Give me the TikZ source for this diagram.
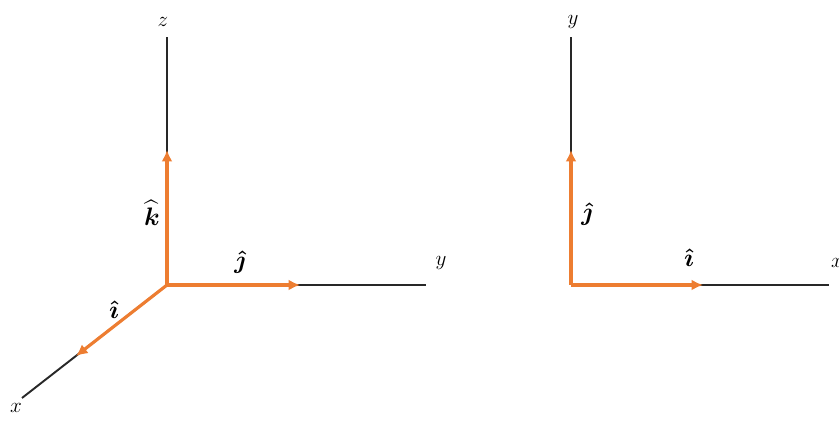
\documentclass[tikz,border=0pt]{standalone}
\usepackage{amsmath,amssymb}
\usepackage{tikz}
\usetikzlibrary{arrows.meta}
\usepackage{xcolor}
\definecolor{vecorange}{RGB}{237,125,49}
\definecolor{axisgray}{RGB}{40,40,40}

\begin{document}
\begin{tikzpicture}[x=0.02cm,y=-0.02cm,
    axis/.style={draw=axisgray,line width=1.1pt},
    unitvec/.style={draw=vecorange,line width=1.8pt,-{Latex[length=2.3mm,width=2.2mm]}},
    lbl/.style={draw=none,fill=none,inner sep=0pt,font=\large},
    veclbl/.style={lbl,font=\Large}]
  \useasboundingbox (0,0) rectangle (839,421);

  % left: three axes
  \coordinate (o) at (167,285);
  \coordinate (zend) at (167,37);
  \coordinate (yend) at (426,285);
  \coordinate (xend) at (22,398);
  \draw[axis] (o) -- (zend);
  \draw[axis] (o) -- (yend);
  \draw[axis] (o) -- (xend);
  \coordinate (ktip) at (167,150);
  \coordinate (jtip) at (300,285);
  \coordinate (itip) at (76,356);
  \draw[unitvec] (o) -- (ktip);
  \draw[unitvec] (o) -- (jtip);
  \draw[unitvec] (o) -- (itip);
  \node[lbl] (zlab) at (163,22) {$z$};
  \node[lbl] (ylab) at (441,263) {$y$};
  \node[lbl] (xlab) at (16,408) {$x$};
  \node[veclbl] (klab) at (152,213) {$\widehat{\boldsymbol{k}}$};
  \node[veclbl] (jlab) at (240,262) {$\boldsymbol{\hat{\jmath}}$};
  \node[veclbl] (ilab) at (114,310) {$\boldsymbol{\hat{\imath}}$};

  % right: two axes
  \coordinate (o2) at (571,285);
  \coordinate (y2end) at (571,37);
  \coordinate (x2end) at (829,285);
  \draw[axis] (o2) -- (y2end);
  \draw[axis] (o2) -- (x2end);
  \coordinate (j2tip) at (571,150);
  \coordinate (i2tip) at (703,285);
  \draw[unitvec] (o2) -- (j2tip);
  \draw[unitvec] (o2) -- (i2tip);
  \node[lbl] (y2lab) at (573,22) {$y$};
  \node[lbl] (x2lab) at (837,263) {$x$};
  \node[veclbl] (j2lab) at (587,214) {$\boldsymbol{\hat{\jmath}}$};
  \node[veclbl] (i2lab) at (689,258) {$\boldsymbol{\hat{\imath}}$};
\end{tikzpicture}
\end{document}
